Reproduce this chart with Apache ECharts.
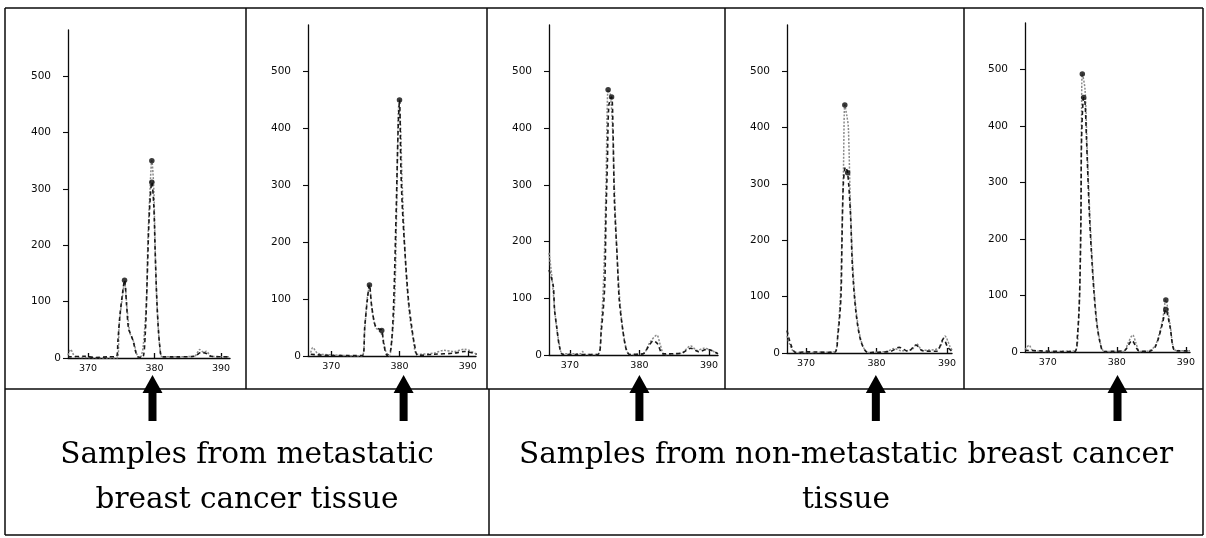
<!DOCTYPE html>
<html><head><meta charset="utf-8">
<script src="https://cdn.jsdelivr.net/npm/echarts@6/dist/echarts.min.js"></script>
<style>html,body{margin:0;padding:0;background:#fff}#c{width:1206px;height:538px}</style>
</head><body><div id="c"></div>
<script>
// ---- data ----
const xTicks = [370, 380, 390];
const yTicks = [0, 100, 200, 300, 400, 500];
const arrowAt = [379.7, 380.6, 380.0, 379.9, 380.1];
const groupLabels = [
  ["Samples from metastatic", "breast cancer tissue"],
  ["Samples from non-metastatic breast cancer", "tissue"]
];

const p1Dark = [[367,2],[369.5,3],[371,1],[373,2],[374.3,3],[374.5,30],[374.8,75],[375.2,115],[375.5,138],[375.8,95],[376.1,52],[376.5,40],[376.8,30],[377.2,10],[377.5,2],[378.2,1],[378.6,40],[378.9,140],[379.2,250],[379.6,312],[379.9,270],[380.1,190],[380.4,90],[380.8,20],[381.2,2],[383,2],[386,3],[387,10],[387.8,8],[388.5,3],[391.3,2]];
const p1Gray = [[367,5],[367.4,15],[368,3],[369,1],[374.4,0],[374.7,60],[375.2,110],[375.5,135],[375.9,85],[376.3,45],[376.9,28],[377.3,8],[377.8,0],[378.0,3],[378.3,20],[378.8,103],[379.0,204],[379.3,292],[379.6,350],[379.9,300],[380.0,251],[380.2,150],[380.5,68],[380.8,20],[381.2,2],[386,3],[386.8,15],[387.4,10],[387.8,12],[388.5,3],[391.3,2]];
const p1Marks = [[375.5,138],[379.6,350],[379.6,312]];

const p2Dark = [[367,3],[368,2],[370,1],[374.6,1],[374.9,50],[375.3,100],[375.6,125],[375.9,90],[376.4,55],[376.9,48],[377.4,45],[377.7,20],[378.2,1],[378.7,10],[379.1,80],[379.5,250],[379.8,400],[380.0,450],[380.2,330],[380.4,265],[380.8,182],[381.3,100],[381.8,50],[382.2,20],[382.7,1],[385,3],[388,5],[389.5,8],[391.3,3]];
const p2Gray = [[367,6],[367.3,15],[368,5],[370,2],[374.5,0],[374.9,45],[375.3,105],[375.6,120],[376.0,80],[376.5,50],[377.0,45],[377.5,35],[378.0,8],[378.5,0],[378.9,30],[379.3,100],[379.6,270],[379.9,440],[380.1,420],[380.4,300],[380.9,160],[381.4,80],[382.0,30],[382.6,3],[385,5],[386.5,10],[388,8],[389.5,12],[391.3,3]];
const p2Marks = [[375.6,125],[377.4,45],[380.0,450]];

const p3Dark = [[367,150],[367.6,123],[367.8,79],[368.1,50],[368.5,15],[369,1],[371,1],[374.0,1],[374.5,40],[375.0,120],[375.2,250],[375.4,340],[375.6,440],[376.0,455],[376.2,400],[376.4,273],[376.8,173],[377.1,97],[377.6,45],[378.1,10],[378.6,1],[380.5,2],[381.3,15],[382.0,25],[382.6,20],[383.4,2],[386,3],[387.4,12],[388.5,6],[389.8,10],[391.3,2]];
const p3Gray = [[367,180],[367.4,140],[367.9,70],[368.4,25],[369,2],[371.5,2],[371.8,6],[372.2,1],[374.0,1],[374.5,50],[374.9,150],[375.2,300],[375.5,468],[375.8,460],[376.1,410],[376.5,260],[376.9,150],[377.3,80],[377.8,30],[378.6,1],[380.5,2],[381.5,22],[382.5,35],[383.0,18],[383.6,1],[386,3],[387.4,16],[388.3,8],[389.3,12],[391.3,2]];
const p3Marks = [[375.5,468],[376.0,455]];

const p4Dark = [[367.3,40],[367.6,25],[368,10],[368.5,1],[370,2],[374.0,1],[374.5,30],[374.95,99],[375.1,200],[375.3,303],[375.6,330],[375.9,320],[376.3,247],[376.6,147],[377.1,70],[377.8,20],[378.8,1],[382,3],[383.2,10],[384.5,3],[385.6,14],[386.5,4],[388.5,3],[389.5,25],[390.1,10],[390.7,3]];
const p4Gray = [[367.3,30],[367.7,15],[368.2,3],[369,1],[374.0,2],[374.5,35],[374.9,110],[375.1,220],[375.3,320],[375.5,440],[375.8,420],[376.0,401],[376.3,260],[376.7,140],[377.2,65],[377.9,18],[378.8,1],[381.5,3],[382.5,8],[383.5,4],[385,6],[385.7,16],[386.5,5],[388.8,8],[389.7,30],[390.4,12],[390.7,5]];
const p4Marks = [[375.5,440],[375.9,320]];

const p5Dark = [[366.7,3],[369,2],[372,1],[373.9,1],[374.3,30],[374.6,100],[374.8,234],[374.9,380],[375.2,450],[375.4,440],[375.6,379],[376.0,251],[376.3,180],[376.7,104],[377.1,50],[377.6,15],[378.1,1],[381,2],[382.2,20],[383.2,2],[384.6,1],[385.6,10],[386.6,50],[387.1,75],[387.7,45],[388.5,2],[390.6,2]];
const p5Gray = [[366.7,4],[367.3,12],[367.8,3],[370,1],[373.9,2],[374.4,40],[374.7,150],[374.9,429],[375.0,492],[375.4,464],[375.7,360],[376.1,240],[376.4,170],[376.8,95],[377.2,45],[377.7,12],[378.2,1],[381,1],[381.6,15],[382.3,30],[382.8,15],[383.3,1],[384.6,2],[385.6,12],[386.6,55],[387.1,92],[387.7,50],[388.5,3],[390.6,2]];
const p5Marks = [[375.0,492],[375.2,450],[387.1,92],[387.1,75]];

const panels = [
  {dark: p1Dark, gray: p1Gray, marks: p1Marks},
  {dark: p2Dark, gray: p2Gray, marks: p2Marks},
  {dark: p3Dark, gray: p3Gray, marks: p3Marks},
  {dark: p4Dark, gray: p4Gray, marks: p4Marks},
  {dark: p5Dark, gray: p5Gray, marks: p5Marks}
];

// ---- layout ----
const gridLeft = [68, 308, 549, 787, 1025];
const gridWidth = [162, 168, 169, 165, 165];
const gridTop = [30, 25, 25, 25, 23];
const gridBottom = [180, 182, 183, 185, 186];
const xMin = [367.0, 366.6, 367.0, 367.3, 366.7];
const xMax = [391.35, 391.2, 391.3, 390.7, 390.6];
const ink = '#0a0a0a';
const xFont = {fontSize: 9.5, color: ink, fontFamily: 'DejaVu Sans'};
const yFont = {fontSize: 10.5, color: ink, fontFamily: 'DejaVu Sans'};

const chart = echarts.init(document.getElementById('c'), null, {renderer: 'canvas'});
const grid = [], xAxis = [], yAxis = [], series = [];
panels.forEach((p, i) => {
  grid.push({left: gridLeft[i], width: gridWidth[i], top: gridTop[i], bottom: gridBottom[i], containLabel: false});
  xAxis.push({
    type: 'value', gridIndex: i, min: xMin[i], max: xMax[i],
    axisLine: {show: true, onZero: false, lineStyle: {color: ink, width: 1.4}},
    axisTick: {show: true, inside: true, length: 5, customValues: xTicks, lineStyle: {color: ink, width: 1.3}},
    axisLabel: Object.assign({customValues: xTicks, margin: 6}, xFont),
    splitLine: {show: false}
  });
  yAxis.push({
    type: 'value', gridIndex: i, min: 0, max: 582,
    axisLine: {show: true, lineStyle: {color: ink, width: 1.3}},
    axisTick: {show: true, length: 5, customValues: yTicks, lineStyle: {color: ink, width: 1.1}},
    axisLabel: {
      customValues: yTicks, margin: 7,
      formatter: v => v === 0 ? '{z|0}' : '{n|' + v + '}',
      rich: {z: Object.assign({}, yFont), n: Object.assign({padding: [0, 10, 0, 0]}, yFont)}
    },
    splitLine: {show: false}
  });
  series.push({
    type: 'line', xAxisIndex: i, yAxisIndex: i, data: p.gray, smooth: 0.3, symbol: 'none',
    lineStyle: {color: '#8a8a8a', width: 1.5, type: [2, 1.5]}, z: 2, animation: false
  });
  series.push({
    type: 'line', xAxisIndex: i, yAxisIndex: i, data: p.dark, smooth: 0.3, symbol: 'none',
    lineStyle: {color: '#1a1a1a', width: 1.6, type: [4, 3]}, z: 3, animation: false
  });
  series.push({
    type: 'scatter', xAxisIndex: i, yAxisIndex: i, data: p.marks, symbol: 'circle', symbolSize: 5.5,
    itemStyle: {color: '#0a0a0a'}, z: 4, animation: false
  });
});

chart.setOption({backgroundColor: '#fff', animation: false, grid, xAxis, yAxis, series});

// frames (layout)
const frameY0 = 8, frameY1 = 389, frameY2 = 535;
const panelX = [5, 246, 487, 725, 964, 1203];
const g = [];
const L = (x1, y1, x2, y2) => g.push({type: 'line', shape: {x1, y1, x2, y2}, style: {stroke: ink, lineWidth: 1.5}, silent: true});
L(panelX[0], frameY0, panelX[5], frameY0);
panelX.forEach(x => L(x, frameY0, x, frameY1));
L(panelX[0], frameY1, panelX[5], frameY1);
L(panelX[0], frameY1, panelX[0], frameY2);
L(489, frameY1, 489, frameY2);
L(panelX[5], frameY1, panelX[5], frameY2);
L(panelX[0], frameY2, panelX[5], frameY2);

// arrows at the marked allele on each x axis
panels.forEach((p, i) => {
  const cx = chart.convertToPixel({xAxisIndex: i}, arrowAt[i]);
  g.push({type: 'polygon', silent: true, z: 10,
    shape: {points: [[cx, 375], [cx + 10, 393], [cx + 4, 393], [cx + 4, 421], [cx - 4, 421], [cx - 4, 393], [cx - 10, 393]]},
    style: {fill: '#000'}});
});

// group labels
const labelCx = [247, 846];
groupLabels.forEach((lines, k) => {
  lines.forEach((t, j) => {
    g.push({type: 'text', silent: true, x: labelCx[k], y: 455 + j * 45,
      style: {text: t, fill: '#000', font: '29.5px "DejaVu Serif"', align: 'center', verticalAlign: 'middle'}});
  });
});

chart.setOption({graphic: g});
</script>
</body></html>
